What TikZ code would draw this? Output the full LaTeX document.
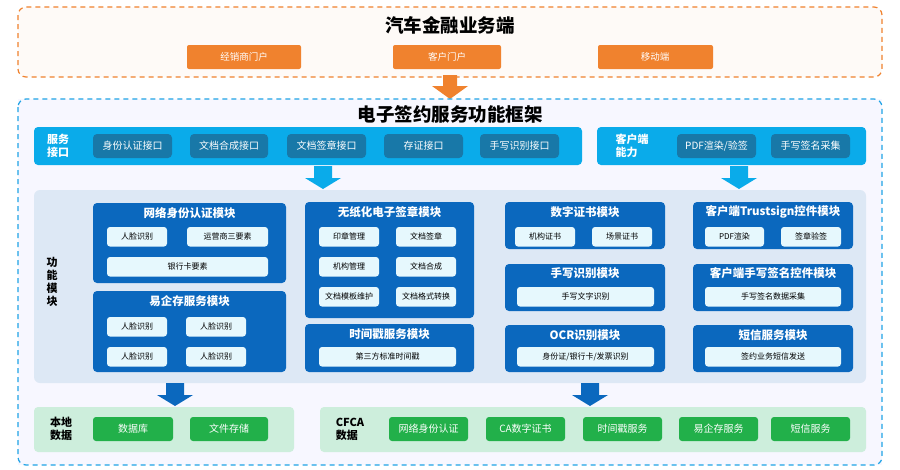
\documentclass[tikz,border=0pt]{standalone}
\usepackage{fontspec}
\setmainfont{Noto Sans CJK SC}
\newcommand\cjkb{\bfseries}
\definecolor{org}{HTML}{F0822E}
\definecolor{band}{HTML}{0AABEA}
\definecolor{ibtn}{HTML}{1878A8}
\definecolor{mod}{HTML}{0B68BE}
\definecolor{item}{HTML}{E6F8FD}
\definecolor{panel}{HTML}{DDE8F5}
\definecolor{gband}{HTML}{CDEEDC}
\definecolor{gbtn}{HTML}{22B04A}
\definecolor{dashc}{HTML}{1FA3E6}
\begin{document}
\begin{tikzpicture}[x=1pt,y=-1pt,
 mt/.style={text=white,font=\cjkb\fontsize{11.5}{12}\selectfont},
 lab/.style={font=\cjkb\fontsize{11}{13}\selectfont,align=left},
]
\fill[white] (0,0) rectangle (900,469);
\fill[white!97!blue] (18,99) rectangle (882,465);
% top
\draw[org,line width=1.2pt,dash pattern=on 5pt off 4pt,rounded corners=8pt,fill=org!4] (18,7) rectangle (882,77);
\node[font=\cjkb\fontsize{18.5}{20}\selectfont] (t1) at (450,25) {汽车金融业务端};
\fill[org,rounded corners=2pt] (187,45) rectangle (301,69); \node[text=white,font=\fontsize{9.5}{10}\selectfont] (o1) at (244,57) {经销商门户};
\fill[org,rounded corners=2pt] (393,45) rectangle (501,69); \node[text=white,font=\fontsize{9.5}{10}\selectfont] (o2) at (447,57) {客户门户};
\fill[org,rounded corners=2pt] (598,45) rectangle (713,69); \node[text=white,font=\fontsize{9.5}{10}\selectfont] (o3) at (655,57) {移动端};
\fill[org] (443,75) -- (457,75) -- (457,86) -- (468,86) -- (450,99) -- (432,86) -- (443,86) -- cycle;
% framework
\draw[dashc,line width=1.2pt,dash pattern=on 5pt off 4pt,rounded corners=8pt] (18,99) rectangle (882,465);
\node[font=\cjkb\fontsize{18.5}{20}\selectfont] (t2) at (450,114) {电子签约服务功能框架};
\fill[band,rounded corners=4pt] (34,127) rectangle (582,165);
\fill[band,rounded corners=4pt] (597,127) rectangle (866,165);
\node[lab,text=white] (l1) at (58,146) {服务\\接口};
\node[lab,text=white] (l2) at (632,146) {客户端\\能力};
\foreach \a/\b/\t/\n in {93/172/身份认证接口/s1,190/268/文档合成接口/s2,287/366/文档签章接口/s3,384/463/存证接口/s4,480/559/手写识别接口/s5,677/756/{PDF渲染/验签}/c1,771/850/手写签名采集/c2}{
 \fill[ibtn,rounded corners=4pt] (\a,134) rectangle (\b,158);
 \node[text=white,font=\fontsize{10}{11}\selectfont] (\n) at ({(\a+\b)/2},146) {\t};
}
\foreach \x in {323,739}{
 \fill[band] (\x-9,166) -- (\x+9,166) -- (\x+9,178) -- (\x+18,178) -- (\x,189) -- (\x-18,178) -- (\x-9,178) -- cycle;}
% panel
\fill[panel,rounded corners=6pt] (34,190) rectangle (866,383);
\node[lab,align=center] (l3) at (52,282) {功\\能\\模\\块};
% modules
\foreach \a/\b/\c/\d/\ty/\t/\n in {93/286/203/283/213/网络身份认证模块/m1,93/286/291/372/301/易企存服务模块/m2,305/474/202/318/212/无纸化电子签章模块/m3,305/474/324/372/334/时间戳服务模块/m4,505/665/202/249/212/数字证书模块/m5,505/665/264/311/273/手写识别模块/m6,505/665/325/372/335/OCR识别模块/m7,693/853/202/249/212/客户端Trustsign控件模块/m8,693/853/264/311/273/客户端手写签名控件模块/m9,693/853/325/372/335/短信服务模块/m10}{
 \fill[mod,rounded corners=4pt] (\a,\c) rectangle (\b,\d);
 \node[mt] (\n) at ({(\a+\b)/2},\ty) {\t};
}
\foreach \a/\b/\c/\t/\n in {107/167/227/人脸识别/i1,187/268/227/运营商三要素/i2,107/268/257/银行卡要素/i3,
107/167/317/人脸识别/i4,186/246/317/人脸识别/i5,107/167/347/人脸识别/i6,186/246/347/人脸识别/i7,
319/379/227/印章管理/i8,396/456/227/文档签章/i9,319/379/257/机构管理/i10,396/456/257/文档合成/i11,319/379/287/文档模板维护/i12,396/456/287/文档格式转换/i13,
319/456/347/第三方标准时间戳/i14,515/575/227/机构证书/i15,592/652/227/场景证书/i16,517/654/287/手写文字识别/i17,517/654/347/{身份证/银行卡/发票识别}/i18,
705/764/227/PDF渲染/i19,781/841/227/签章验签/i20,705/841/287/手写签名数据采集/i21,705/841/347/签约业务短信发送/i22}{
 \fill[item,rounded corners=3pt] (\a,\c) rectangle (\b,\c+19.5);
 \node[font=\fontsize{8}{9}\selectfont] (\n) at ({(\a+\b)/2},\c+9.75) {\t};
}
\foreach \x in {175,590}{
 \fill[mod] (\x-9,383) -- (\x+9,383) -- (\x+9,395) -- (\x+18,395) -- (\x,406) -- (\x-18,395) -- (\x-9,395) -- cycle;}
% data
\fill[gband,rounded corners=4pt] (34,407) rectangle (294,452);
\fill[gband,rounded corners=4pt] (320,407) rectangle (866,452);
\node[lab] (l4) at (61,429) {本地\\数据};
\node[lab] (l5) at (350,429) {CFCA\\数据};
\foreach \a/\b/\t/\n in {93/173/数据库/d1,190/268/文件存储/d2,389/468/网络身份认证/d3,486/565/CA数字证书/d4,583/662/时间戳服务/d5,679/758/易企存服务/d6,771/850/短信服务/d7}{
 \fill[gbtn,rounded corners=3pt] (\a,417) rectangle (\b,441);
 \node[text=white,font=\fontsize{10}{11}\selectfont] (\n) at ({(\a+\b)/2},429) {\t};
}
\end{tikzpicture}
\end{document}
